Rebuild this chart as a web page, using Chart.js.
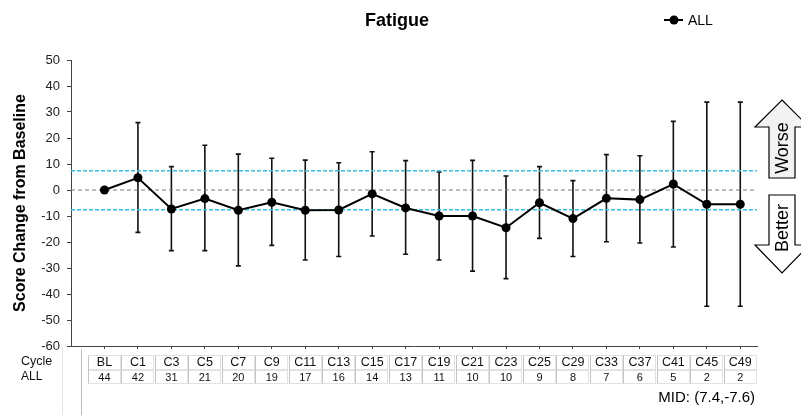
<!DOCTYPE html>
<html>
<head>
<meta charset="utf-8">
<script src="https://cdn.jsdelivr.net/npm/chart.js@4/dist/chart.umd.min.js"></script>
<style>
  html, body { margin: 0; padding: 0; background: #fff; }
  #wrap { width: 801px; height: 415px; }
</style>
</head>
<body>
<div id="wrap"><canvas id="fatigueChart" width="801" height="415"></canvas></div>
<script>
// data
const cycles = ['BL', 'C1', 'C3', 'C5', 'C7', 'C9', 'C11', 'C13', 'C15', 'C17', 'C19', 'C21', 'C23', 'C25', 'C29', 'C33', 'C37', 'C41', 'C45', 'C49'];
const counts = [44, 42, 31, 21, 20, 19, 17, 16, 14, 13, 11, 10, 10, 9, 8, 7, 6, 5, 2, 2];
const meanChange = [0, 4.7, -7.3, -3.3, -7.8, -4.7, -7.8, -7.7, -1.5, -6.9, -10.0, -10.0, -14.5, -4.9, -11.0, -3.2, -3.7, 2.3, -5.5, -5.5];
const upperBar = [null, 25.9, 9.0, 17.2, 13.8, 12.2, 11.5, 10.5, 14.7, 11.3, 6.9, 11.4, 5.4, 9.0, 3.6, 13.6, 13.2, 26.4, 33.8, 33.8];
const lowerBar = [null, -16.3, -23.3, -23.3, -29.2, -21.3, -26.9, -25.6, -17.7, -24.7, -26.9, -31.2, -34.1, -18.6, -25.6, -19.9, -20.4, -21.9, -44.7, -44.7];
const midValues = [7.4, -7.6];
const yTicks = [50, 40, 30, 20, 10, 0, -10, -20, -30, -40, -50, -60];

const FONT = "'Liberation Sans', Arial, sans-serif";
const X_MIN = -1, X_MAX = 19.5;

const seriesPoints = cycles.map((c, i) => ({ x: i, y: meanChange[i] }));
const hline = v => [{ x: X_MIN, y: v }, { x: X_MAX, y: v }];

/**
 * error bars, drawn under the points
 */
const errorBars = {
    id: 'errorBars',
    beforeDatasetsDraw(chart) {
        const { ctx, scales: { x, y } } = chart;
        ctx.save();
        ctx.strokeStyle = '#111';
        ctx.lineWidth = 1.6;
        cycles.forEach((c, i) => {
            if (upperBar[i] == null) return;
            const px = x.getPixelForValue(i);
            const top = y.getPixelForValue(upperBar[i]);
            const bot = y.getPixelForValue(lowerBar[i]);
            ctx.beginPath();
            ctx.moveTo(px, top); ctx.lineTo(px, bot);
            ctx.moveTo(px - 2.5, top); ctx.lineTo(px + 2.5, top);
            ctx.moveTo(px - 2.5, bot); ctx.lineTo(px + 2.5, bot);
            ctx.stroke();
        });
        ctx.restore();
    }
};

/**
 * title, legend, N table, MID note and the Worse / Better arrows
 */
const decorations = {
    id: 'decorations',
    afterDraw(chart) {
        const { ctx, scales: { x } } = chart;
        ctx.save();

        // title
        ctx.fillStyle = '#000';
        ctx.font = `bold 18px ${FONT}`;
        ctx.textAlign = 'center';
        ctx.textBaseline = 'middle';
        ctx.fillText('Fatigue', 397, 21);

        // legend
        ctx.strokeStyle = '#000';
        ctx.lineWidth = 2;
        ctx.beginPath(); ctx.moveTo(664, 20); ctx.lineTo(683, 20); ctx.stroke();
        ctx.beginPath(); ctx.arc(674, 20, 4.5, 0, Math.PI * 2); ctx.fillStyle = '#000'; ctx.fill();
        ctx.font = `14px ${FONT}`;
        ctx.textAlign = 'left';
        ctx.fillText('ALL', 688, 21);

        // separator lines left of the table
        ctx.lineWidth = 1;
        ctx.strokeStyle = '#e4e4e4';
        ctx.beginPath(); ctx.moveTo(62.5, 347); ctx.lineTo(62.5, 415); ctx.stroke();
        ctx.strokeStyle = '#bdbdbd';
        ctx.beginPath(); ctx.moveTo(81.5, 349); ctx.lineTo(81.5, 415); ctx.stroke();

        // table
        const cellW = x.getPixelForValue(1) - x.getPixelForValue(0);
        ctx.font = `12.5px ${FONT}`;
        ctx.fillStyle = '#111';
        ctx.textAlign = 'left';
        ctx.fillText('Cycle', 21, 362);
        ctx.font = `12px ${FONT}`;
        ctx.fillText('ALL', 21, 377);
        cycles.forEach((c, i) => {
            const cx = x.getPixelForValue(i);
            const l = Math.round(cx - cellW / 2) + 0.5;
            const w = Math.round(cellW) - 1;
            ctx.strokeStyle = '#e2e2e2';
            ctx.strokeRect(l, 355.5, w, 14);
            ctx.strokeRect(l, 370.5, w, 13);
            ctx.strokeStyle = '#c4c4c4';
            ctx.beginPath();
            ctx.moveTo(l, 355.5); ctx.lineTo(l, 383.5);
            ctx.stroke();
            ctx.fillStyle = '#111';
            ctx.textAlign = 'center';
            ctx.font = `12.5px ${FONT}`;
            ctx.fillText(c, cx, 362.5);
            ctx.font = `11px ${FONT}`;
            ctx.fillText(String(counts[i]), cx, 377.5);
        });

        // MID note
        ctx.font = `15px ${FONT}`;
        ctx.textAlign = 'right';
        ctx.fillStyle = '#000';
        ctx.fillText(`MID: (${midValues[0]},${midValues[1]})`, 755, 398);

        // arrows
        const cx = 782, bodyL = 769, bodyR = 795, headL = 755, headR = 809;
        ctx.fillStyle = '#f2f2f2';
        ctx.strokeStyle = '#000';
        ctx.lineWidth = 1.2;
        ctx.beginPath();
        ctx.moveTo(cx, 100); ctx.lineTo(headR, 127); ctx.lineTo(bodyR, 127); ctx.lineTo(bodyR, 178);
        ctx.lineTo(bodyL, 178); ctx.lineTo(bodyL, 127); ctx.lineTo(headL, 127); ctx.closePath();
        ctx.fill(); ctx.stroke();
        ctx.fillStyle = '#fff';
        ctx.beginPath();
        ctx.moveTo(bodyL, 195); ctx.lineTo(bodyR, 195); ctx.lineTo(bodyR, 245); ctx.lineTo(headR, 245);
        ctx.lineTo(cx, 273); ctx.lineTo(headL, 245); ctx.lineTo(bodyL, 245); ctx.closePath();
        ctx.fill(); ctx.stroke();

        ctx.fillStyle = '#000';
        ctx.font = `18px ${FONT}`;
        ctx.textAlign = 'center';
        ctx.textBaseline = 'middle';
        ctx.save();
        ctx.translate(783, 148); ctx.rotate(-Math.PI / 2);
        ctx.fillText('Worse', 0, 0);
        ctx.restore();
        ctx.save();
        ctx.translate(783, 228); ctx.rotate(-Math.PI / 2);
        ctx.fillText('Better', 0, 0);
        ctx.restore();

        ctx.restore();
    }
};

new Chart(document.getElementById('fatigueChart').getContext('2d'), {
    type: 'line',
    data: {
        datasets: [
            {
                label: 'ALL',
                data: seriesPoints,
                borderColor: '#000',
                backgroundColor: '#000',
                borderWidth: 2,
                pointRadius: 4.5,
                pointBackgroundColor: '#000',
                pointBorderWidth: 0,
                tension: 0
            },
            {
                label: 'zero',
                data: hline(0),
                borderColor: '#7a7a7a',
                borderWidth: 1.2,
                borderDash: [4, 3],
                pointRadius: 0
            },
            {
                label: 'MID upper',
                data: hline(midValues[0]),
                borderColor: '#3bbce3',
                borderWidth: 1.5,
                borderDash: [4, 2],
                pointRadius: 0
            },
            {
                label: 'MID lower',
                data: hline(midValues[1]),
                borderColor: '#3bbce3',
                borderWidth: 1.5,
                borderDash: [4, 2],
                pointRadius: 0
            }
        ]
    },
    options: {
        responsive: false,
        animation: false,
        layout: { padding: { top: 60, right: 44, left: 0, bottom: 0 } },
        plugins: {
            legend: { display: false },
            title: { display: false },
            tooltip: { enabled: false }
        },
        scales: {
            x: {
                type: 'linear',
                min: X_MIN,
                max: X_MAX,
                afterBuildTicks: scale => { scale.ticks = cycles.map((c, i) => ({ value: i })); },
                afterFit: scale => { scale.height = 69; },
                ticks: { display: false, autoSkip: false },
                grid: { drawOnChartArea: false, drawTicks: true, tickLength: 3, color: '#444' },
                border: { display: true, color: '#444', width: 1 }
            },
            y: {
                min: -60,
                max: 50,
                afterBuildTicks: scale => { scale.ticks = yTicks.map(v => ({ value: v })); },
                afterFit: scale => { scale.width = 71; },
                ticks: { color: '#222', font: { family: FONT, size: 13 }, padding: 7 },
                grid: { drawOnChartArea: false, drawTicks: true, tickLength: 4, color: '#444' },
                border: { display: true, color: '#444', width: 1 },
                title: {
                    display: true,
                    text: 'Score Change from Baseline',
                    color: '#000',
                    font: { family: FONT, size: 16, weight: 'bold' },
                    padding: { top: 11, bottom: 0 }
                }
            }
        }
    },
    plugins: [errorBars, decorations]
});
</script>
</body>
</html>
